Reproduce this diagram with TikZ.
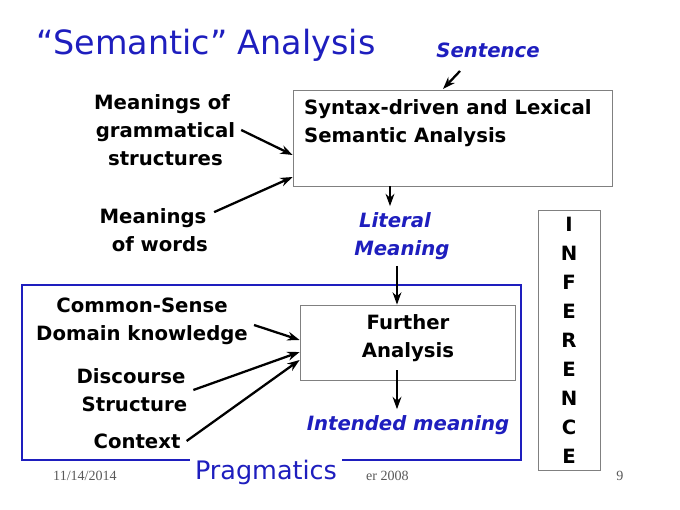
\documentclass[tikz,border=0pt]{standalone}
\usepackage{fontspec}
\setmainfont{DejaVu Sans}
\newfontfamily\footfont{Liberation Serif}
\usetikzlibrary{arrows.meta,positioning}
\definecolor{titleblue}{RGB}{30,30,190}
\tikzset{
  lbl/.style={font=\bfseries\fontsize{11.2}{16}\selectfont, align=center},
  blu/.style={lbl, text=titleblue, font=\bfseries\itshape\fontsize{11.2}{16}\selectfont},
  box/.style={draw=gray, fill=white},
  arr/.style={-{Stealth[length=7pt,width=5pt]}, line width=1.3pt},
  foot/.style={font=\footfont\fontsize{8}{10}\selectfont, text=gray!70!black}
}
\begin{document}
\begin{tikzpicture}[x=0.02cm,y=-0.02cm]
  \useasboundingbox (0,0) rectangle (680,510);
  % title
  \node[anchor=west, text=titleblue, font=\fontsize{19}{23}\selectfont] (title) at (30,45) {“Semantic” Analysis};
  \node[blu] (sent) at (488,50) {Sentence};
  % top box
  \node[box, minimum width=319*0.02cm, minimum height=96*0.02cm] (synbox) at (452.5,138) {};
  \node[lbl, anchor=north west, align=left] (syntxt) at (298,93) {Syntax-driven and Lexical\\Semantic Analysis};
  \node[lbl] (gram) at (162,130) {Meanings of\\\ grammatical\\\ structures};
  \node[lbl] (words) at (153,230) {Meanings\\\ \ of words};
  \node[blu] (literal) at (395,236) {Literal\\\ \ Meaning};
  % pragmatics frame
  \draw[titleblue, line width=1.5pt] (22,285) rectangle (521,460);
  \node[box, minimum width=215*0.02cm, minimum height=75*0.02cm] (further) at (407.5,342.5) {};
  \node[lbl] (furtxt) at (408,338) {Further\\Analysis};
  \node[blu] (intended) at (408,425) {Intended meaning};
  \node[lbl] (common) at (142,321) {Common-Sense\\Domain knowledge};
  \node[lbl] (disc) at (131,390) {Discourse\\\ Structure};
  \node[lbl] (ctx) at (137,441) {Context};
  \node[fill=white, text=titleblue, font=\fontsize{14.5}{18}\selectfont, inner sep=3pt] (prag) at (266,472) {Pragmatics};
  % inference column
  \node[box, minimum width=62*0.02cm, minimum height=260*0.02cm] (infbox) at (569,340) {};
  \foreach \ch [count=\i from 0] in {I,N,F,E,R,E,N,C,E}
    \node[lbl] (inf\i) at (569,224+29*\i) {\ch};
  % footer
  \node[foot] (date) at (85,476) {11/14/2014};
  \node[foot, anchor=west] (year) at (360,476) {er 2008};
  \node[foot] (page) at (620,476) {9};
  % connectors
  \coordinate (sentstart) at (460,71);
  \coordinate (sentend) at (443,89);
  \draw[arr] (sentstart) -- (sentend);
  \draw[arr] (gram.east) -- (synbox.west |- 0,155);
  \draw[arr] (words.north east) ++(0,10) -- (synbox.west |- 0,177);
  \draw[arr] (synbox.south -| 390,0) -- (literal.north -| 390,0);
  \draw[arr] (literal.south -| 397,0) -- (further.north -| 397,0);
  \draw[arr] (397,370) -- (intended.north -| 397,0);
  \draw[arr] (common.east) ++(0,4) -- (further.west |- 0,340);
  \draw[arr] (disc.east) -- (further.west |- 0,352);
  \draw[arr] (ctx.east) -- (further.west |- 0,360);
\end{tikzpicture}
\end{document}
